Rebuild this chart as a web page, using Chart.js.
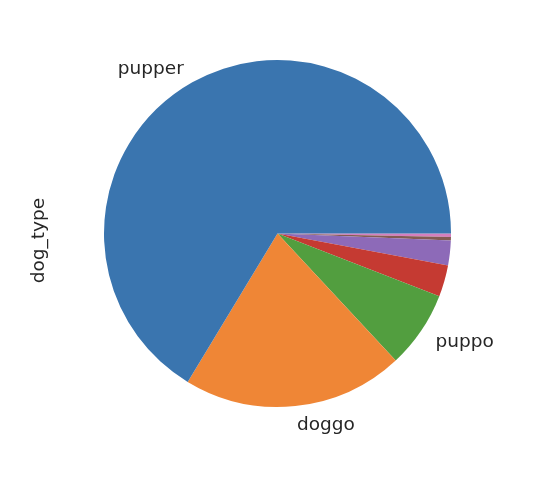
<!DOCTYPE html>
<html lang="en">
<head>
  <meta charset="UTF-8" />
  <title>dog_type</title>
  <script src="https://cdn.jsdelivr.net/npm/chart.js"></script>
  <style>
    body { margin: 0; background: #ffffff; }
    #wrap { width: 554px; height: 500px; position: relative; }
  </style>
</head>
<body>
  <div id="wrap"><canvas id="pieChart" width="554" height="500"></canvas></div>

  <script>
    // counts per dog_type, largest first (the small ones have no label drawn)
    const dogTypes = ['pupper', 'doggo', 'puppo', '', '', '', ''];
    const dogCounts = [203, 63, 22, 9, 7, 1, 1];
    const sliceColors = ['#3a75af', '#ef8636', '#529e3f', '#c53a32', '#8d6ab8', '#845b53', '#d57fbe'];
    const axisLabel = 'dog_type';

    const labelFont = '18.5px "DejaVu Sans", sans-serif';

    // matplotlib draws counter-clockwise from 3 o'clock, chart.js clockwise,
    // so feed the slices in reverse and start at 3 o'clock
    const revLabels = dogTypes.slice().reverse();
    const revCounts = dogCounts.slice().reverse();
    const revColors = sliceColors.slice().reverse();

    const sliceLabels = {
      id: 'sliceLabels',
      afterDraw(chart) {
        const ctx = chart.ctx;
        const arcs = chart.getDatasetMeta(0).data;
        ctx.save();
        ctx.font = labelFont;
        ctx.fillStyle = '#262626';
        ctx.textBaseline = 'middle';
        arcs.forEach((arc, i) => {
          const text = revLabels[i];
          if (!text) return;
          const p = arc.getProps(['x', 'y', 'startAngle', 'endAngle', 'outerRadius'], true);
          const mid = (p.startAngle + p.endAngle) / 2;
          const r = p.outerRadius * 1.1;
          const x = p.x + Math.cos(mid) * r;
          const y = p.y + Math.sin(mid) * r + 2;
          ctx.textAlign = Math.cos(mid) < 0 ? 'right' : 'left';
          ctx.fillText(text, x, y);
        });

        // y axis label
        const area = chart.chartArea;
        ctx.translate(39, (area.top + area.bottom) / 2 + 7);
        ctx.rotate(-Math.PI / 2);
        ctx.textAlign = 'center';
        ctx.fillText(axisLabel, 0, 0);
        ctx.restore();
      }
    };

    new Chart(document.getElementById('pieChart').getContext('2d'), {
      type: 'pie',
      data: {
        labels: revLabels,
        datasets: [{
          data: revCounts,
          backgroundColor: revColors,
          borderWidth: 0
        }]
      },
      options: {
        responsive: false,
        animation: false,
        rotation: 90,
        layout: { padding: { left: 104, right: 103, top: 60, bottom: 93 } },
        plugins: {
          legend: { display: false },
          tooltip: { enabled: false }
        }
      },
      plugins: [sliceLabels]
    });
  </script>
</body>
</html>
